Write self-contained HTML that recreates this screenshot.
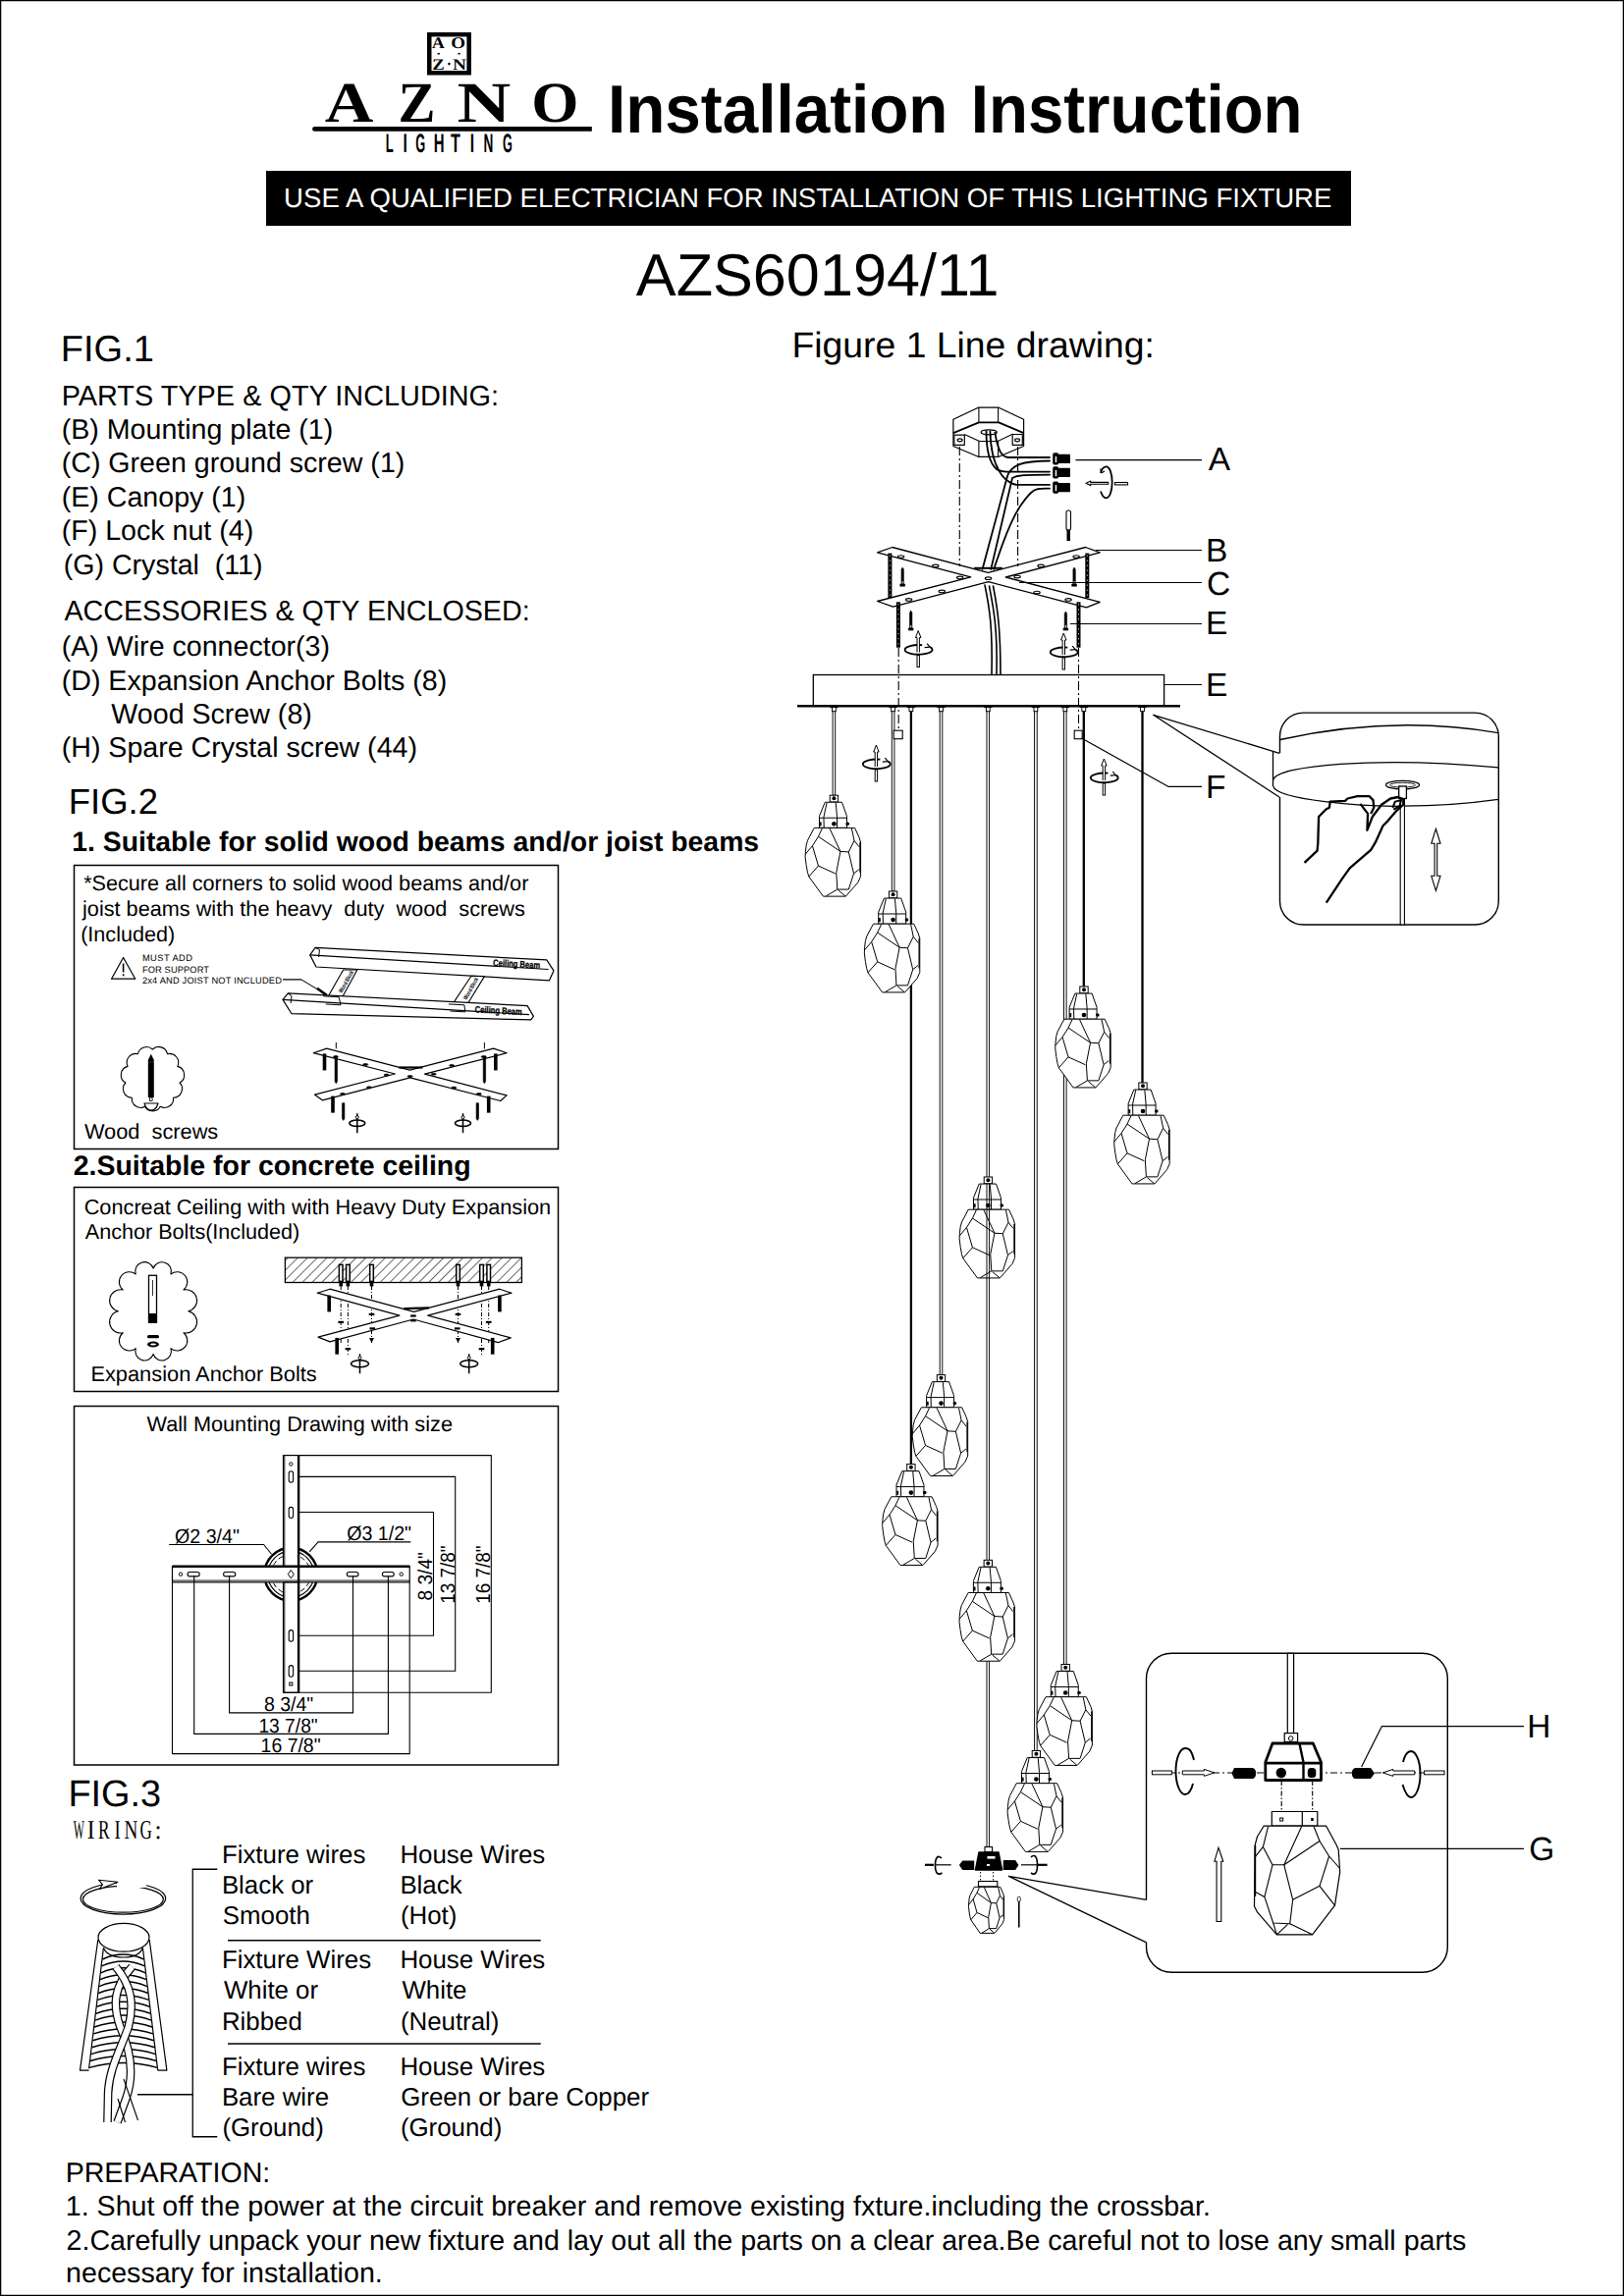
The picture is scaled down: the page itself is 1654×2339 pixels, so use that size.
<!DOCTYPE html>
<html><head><meta charset="utf-8"><style>
html,body{margin:0;padding:0;background:#fff;}
body{width:1654px;height:2339px;overflow:hidden;position:relative;font-family:"Liberation Sans",sans-serif;}
svg{position:absolute;left:0;top:0;display:block;}
</style></head><body>
<svg width="1654" height="2339" viewBox="0 0 1654 2339" text-rendering="geometricPrecision">
<rect x="0.5" y="0.5" width="1653" height="2338" fill="none" stroke="#000" stroke-width="1.5"/>

<text x="439.82" y="48.90" font-size="16.2" font-family="Liberation Serif" font-weight="bold" fill="#000" textLength="13.11" lengthAdjust="spacingAndGlyphs"  xml:space="preserve">A</text>
<text x="459.17" y="48.90" font-size="16.2" font-family="Liberation Serif" font-weight="bold" fill="#000" textLength="14.75" lengthAdjust="spacingAndGlyphs"  xml:space="preserve">O</text>
<text x="440.31" y="70.60" font-size="16.2" font-family="Liberation Serif" font-weight="bold" fill="#000" textLength="12.44" lengthAdjust="spacingAndGlyphs"  xml:space="preserve">Z</text>
<text x="461.03" y="70.60" font-size="16.2" font-family="Liberation Serif" font-weight="bold" fill="#000" textLength="13.92" lengthAdjust="spacingAndGlyphs"  xml:space="preserve">N</text>
<text x="618.91" y="135.00" font-size="69.3" font-family="Liberation Sans" font-weight="bold" fill="#000" textLength="346.56" lengthAdjust="spacingAndGlyphs"  xml:space="preserve">Installation</text>
<text x="988.83" y="135.00" font-size="69.3" font-family="Liberation Sans" font-weight="bold" fill="#000" textLength="337.73" lengthAdjust="spacingAndGlyphs"  xml:space="preserve">Instruction</text>
<rect x="271" y="174" width="1105" height="56" fill="#000"/>
<text x="289.14" y="210.75" font-size="27.5" font-family="Liberation Sans" font-weight="normal" fill="#fff" textLength="1067.29" lengthAdjust="spacingAndGlyphs"  xml:space="preserve">USE A QUALIFIED ELECTRICIAN FOR INSTALLATION OF THIS LIGHTING FIXTURE</text>
<text x="647.88" y="301.00" font-size="60.7" font-family="Liberation Sans" font-weight="normal" fill="#000" textLength="369.57" lengthAdjust="spacingAndGlyphs"  xml:space="preserve">AZS60194/11</text>
<text x="61.88" y="367.50" font-size="37.5" font-family="Liberation Sans" font-weight="normal" fill="#000" textLength="94.97" lengthAdjust="spacingAndGlyphs"  xml:space="preserve">FIG.1</text>
<text x="62.65" y="412.80" font-size="29" font-family="Liberation Sans" font-weight="normal" fill="#000" textLength="445.46" lengthAdjust="spacingAndGlyphs"  xml:space="preserve">PARTS TYPE &amp; QTY INCLUDING:</text>
<text x="62.73" y="446.80" font-size="28.6" font-family="Liberation Sans" font-weight="normal" fill="#000"  xml:space="preserve">(B) Mounting plate (1)</text>
<text x="62.73" y="481.00" font-size="28.6" font-family="Liberation Sans" font-weight="normal" fill="#000"  xml:space="preserve">(C) Green ground screw (1)</text>
<text x="62.73" y="516.00" font-size="28.6" font-family="Liberation Sans" font-weight="normal" fill="#000"  xml:space="preserve">(E) Canopy (1)</text>
<text x="62.73" y="550.20" font-size="28.6" font-family="Liberation Sans" font-weight="normal" fill="#000"  xml:space="preserve">(F) Lock nut (4)</text>
<text x="64.73" y="584.50" font-size="28.6" font-family="Liberation Sans" font-weight="normal" fill="#000"  xml:space="preserve">(G) Crystal  (11)</text>
<text x="65.44" y="631.50" font-size="29" font-family="Liberation Sans" font-weight="normal" fill="#000" textLength="474.17" lengthAdjust="spacingAndGlyphs"  xml:space="preserve">ACCESSORIES &amp; QTY ENCLOSED:</text>
<text x="62.73" y="668.00" font-size="28.6" font-family="Liberation Sans" font-weight="normal" fill="#000"  xml:space="preserve">(A) Wire connector(3)</text>
<text x="62.73" y="702.50" font-size="28.6" font-family="Liberation Sans" font-weight="normal" fill="#000"  xml:space="preserve">(D) Expansion Anchor Bolts (8)</text>
<text x="113.37" y="737.00" font-size="28.6" font-family="Liberation Sans" font-weight="normal" fill="#000"  xml:space="preserve">Wood Screw (8)</text>
<text x="62.73" y="771.00" font-size="28.6" font-family="Liberation Sans" font-weight="normal" fill="#000"  xml:space="preserve">(H) Spare Crystal screw (44)</text>
<text x="69.81" y="828.80" font-size="36.5" font-family="Liberation Sans" font-weight="normal" fill="#000"  xml:space="preserve">FIG.2</text>
<text x="73.21" y="867.00" font-size="28.25" font-family="Liberation Sans" font-weight="bold" fill="#000" textLength="699.95" lengthAdjust="spacingAndGlyphs"  xml:space="preserve">1. Suitable for solid wood beams and/or joist beams</text>
<rect x="75.5" y="881.5" width="493" height="289" fill="none" stroke="#000" stroke-width="1.5"/>
<text x="85.15" y="907.30" font-size="21.6" font-family="Liberation Sans" font-weight="normal" fill="#000" textLength="453.21" lengthAdjust="spacingAndGlyphs"  xml:space="preserve">*Secure all corners to solid wood beams and/or</text>
<text x="84.03" y="933.40" font-size="21.6" font-family="Liberation Sans" font-weight="normal" fill="#000" textLength="450.75" lengthAdjust="spacingAndGlyphs"  xml:space="preserve">joist beams with the heavy  duty  wood  screws</text>
<text x="82.16" y="959.00" font-size="21.6" font-family="Liberation Sans" font-weight="normal" fill="#000"  xml:space="preserve">(Included)</text>
<text x="85.90" y="1160.00" font-size="21.6" font-family="Liberation Sans" font-weight="normal" fill="#000" textLength="136.38" lengthAdjust="spacingAndGlyphs"  xml:space="preserve">Wood  screws</text>
<text x="74.71" y="1196.50" font-size="28.25" font-family="Liberation Sans" font-weight="bold" fill="#000" textLength="404.89" lengthAdjust="spacingAndGlyphs"  xml:space="preserve">2.Suitable for concrete ceiling</text>
<rect x="75.5" y="1209.5" width="493" height="208" fill="none" stroke="#000" stroke-width="1.5"/>
<text x="85.70" y="1236.50" font-size="21.6" font-family="Liberation Sans" font-weight="normal" fill="#000" textLength="475.51" lengthAdjust="spacingAndGlyphs"  xml:space="preserve">Concreat Ceiling with with Heavy Duty Expansion</text>
<text x="86.76" y="1261.60" font-size="21.6" font-family="Liberation Sans" font-weight="normal" fill="#000"  xml:space="preserve">Anchor Bolts(Included)</text>
<text x="92.42" y="1406.50" font-size="21.6" font-family="Liberation Sans" font-weight="normal" fill="#000" textLength="230.36" lengthAdjust="spacingAndGlyphs"  xml:space="preserve">Expansion Anchor Bolts</text>
<rect x="75.5" y="1432.5" width="493" height="365.5" fill="none" stroke="#000" stroke-width="1.5"/>
<text x="149.50" y="1457.70" font-size="21.6" font-family="Liberation Sans" font-weight="normal" fill="#000" textLength="311.46" lengthAdjust="spacingAndGlyphs"  xml:space="preserve">Wall Mounting Drawing with size</text>
<text x="69.39" y="1840.30" font-size="38" font-family="Liberation Sans" font-weight="normal" fill="#000" textLength="94.77" lengthAdjust="spacingAndGlyphs"  xml:space="preserve">FIG.3</text>
<text x="74.79" y="1872.70" font-size="27.3" font-family="Liberation Serif" font-weight="normal" fill="#000" textLength="11.13" lengthAdjust="spacingAndGlyphs"  xml:space="preserve">W</text>
<text x="88.76" y="1872.70" font-size="27.3" font-family="Liberation Serif" font-weight="normal" fill="#000" textLength="7.76" lengthAdjust="spacingAndGlyphs"  xml:space="preserve">I</text>
<text x="100.10" y="1872.70" font-size="27.3" font-family="Liberation Serif" font-weight="normal" fill="#000" textLength="11.63" lengthAdjust="spacingAndGlyphs"  xml:space="preserve">R</text>
<text x="116.62" y="1872.70" font-size="27.3" font-family="Liberation Serif" font-weight="normal" fill="#000" textLength="6.23" lengthAdjust="spacingAndGlyphs"  xml:space="preserve">I</text>
<text x="126.55" y="1872.70" font-size="27.3" font-family="Liberation Serif" font-weight="normal" fill="#000" textLength="13.90" lengthAdjust="spacingAndGlyphs"  xml:space="preserve">N</text>
<text x="142.40" y="1872.70" font-size="27.3" font-family="Liberation Serif" font-weight="normal" fill="#000" textLength="12.33" lengthAdjust="spacingAndGlyphs"  xml:space="preserve">G</text>
<text x="157.58" y="1872.70" font-size="27.3" font-family="Liberation Serif" font-weight="normal" fill="#000" textLength="7.08" lengthAdjust="spacingAndGlyphs"  xml:space="preserve">:</text>
<text x="225.88" y="1897.50" font-size="25.85" font-family="Liberation Sans" font-weight="normal" fill="#000"  xml:space="preserve">Fixture wires</text>
<text x="407.38" y="1897.50" font-size="25.85" font-family="Liberation Sans" font-weight="normal" fill="#000"  xml:space="preserve">House Wires</text>
<text x="225.88" y="1928.75" font-size="25.85" font-family="Liberation Sans" font-weight="normal" fill="#000"  xml:space="preserve">Black or</text>
<text x="407.38" y="1928.75" font-size="25.85" font-family="Liberation Sans" font-weight="normal" fill="#000"  xml:space="preserve">Black</text>
<text x="226.83" y="1959.50" font-size="25.85" font-family="Liberation Sans" font-weight="normal" fill="#000"  xml:space="preserve">Smooth</text>
<text x="407.90" y="1959.50" font-size="25.85" font-family="Liberation Sans" font-weight="normal" fill="#000"  xml:space="preserve">(Hot)</text>
<text x="225.88" y="2005.00" font-size="25.85" font-family="Liberation Sans" font-weight="normal" fill="#000"  xml:space="preserve">Fixture Wires</text>
<text x="407.38" y="2005.00" font-size="25.85" font-family="Liberation Sans" font-weight="normal" fill="#000"  xml:space="preserve">House Wires</text>
<text x="227.89" y="2036.25" font-size="25.85" font-family="Liberation Sans" font-weight="normal" fill="#000"  xml:space="preserve">White or</text>
<text x="409.39" y="2036.25" font-size="25.85" font-family="Liberation Sans" font-weight="normal" fill="#000"  xml:space="preserve">White</text>
<text x="225.88" y="2067.50" font-size="25.85" font-family="Liberation Sans" font-weight="normal" fill="#000"  xml:space="preserve">Ribbed</text>
<text x="407.90" y="2067.50" font-size="25.85" font-family="Liberation Sans" font-weight="normal" fill="#000"  xml:space="preserve">(Neutral)</text>
<text x="225.88" y="2113.75" font-size="25.85" font-family="Liberation Sans" font-weight="normal" fill="#000"  xml:space="preserve">Fixture wires</text>
<text x="407.38" y="2113.75" font-size="25.85" font-family="Liberation Sans" font-weight="normal" fill="#000"  xml:space="preserve">House Wires</text>
<text x="225.88" y="2145.00" font-size="25.85" font-family="Liberation Sans" font-weight="normal" fill="#000"  xml:space="preserve">Bare wire</text>
<text x="408.20" y="2145.00" font-size="25.85" font-family="Liberation Sans" font-weight="normal" fill="#000"  xml:space="preserve">Green or bare Copper</text>
<text x="226.40" y="2175.50" font-size="25.85" font-family="Liberation Sans" font-weight="normal" fill="#000"  xml:space="preserve">(Ground)</text>
<text x="407.90" y="2175.50" font-size="25.85" font-family="Liberation Sans" font-weight="normal" fill="#000"  xml:space="preserve">(Ground)</text>
<line x1="232" y1="1976.75" x2="550.75" y2="1976.75" stroke="#000" stroke-width="1.3"/>
<line x1="232" y1="2082" x2="550.75" y2="2082" stroke="#000" stroke-width="1.3"/>
<polyline points="221.25,1904.25 196.25,1904.25 196.25,2176.75 221.25,2176.75" fill="none" stroke="#000" stroke-width="1.3"/>
<line x1="140" y1="2133.75" x2="196.25" y2="2133.75" stroke="#000" stroke-width="1.3"/>
<text x="66.65" y="2222.50" font-size="28.6" font-family="Liberation Sans" font-weight="normal" fill="#000"  xml:space="preserve">PREPARATION:</text>
<text x="66.82" y="2256.50" font-size="28.6" font-family="Liberation Sans" font-weight="normal" fill="#000"  xml:space="preserve">1. Shut off the power at the circuit breaker and remove existing fxture.including the crossbar.</text>
<text x="67.56" y="2291.50" font-size="28.6" font-family="Liberation Sans" font-weight="normal" fill="#000"  xml:space="preserve">2.Carefully unpack your new fixture and lay out all the parts on a clear area.Be careful not to lose any small parts</text>
<text x="67.10" y="2325.00" font-size="28.6" font-family="Liberation Sans" font-weight="normal" fill="#000"  xml:space="preserve">necessary for installation.</text>
<text x="806.44" y="363.75" font-size="36.7" font-family="Liberation Sans" font-weight="normal" fill="#000" textLength="369.47" lengthAdjust="spacingAndGlyphs"  xml:space="preserve">Figure 1 Line drawing:</text>
<text x="1230.73" y="478.90" font-size="33.5" font-family="Liberation Sans" font-weight="normal" fill="#000"  xml:space="preserve">A</text>
<text x="1228.05" y="572.00" font-size="33.5" font-family="Liberation Sans" font-weight="normal" fill="#000"  xml:space="preserve">B</text>
<text x="1229.10" y="605.60" font-size="33.5" font-family="Liberation Sans" font-weight="normal" fill="#000"  xml:space="preserve">C</text>
<text x="1228.05" y="645.80" font-size="33.5" font-family="Liberation Sans" font-weight="normal" fill="#000"  xml:space="preserve">E</text>
<text x="1228.05" y="709.00" font-size="33.5" font-family="Liberation Sans" font-weight="normal" fill="#000"  xml:space="preserve">E</text>
<text x="1228.05" y="812.50" font-size="33.5" font-family="Liberation Sans" font-weight="normal" fill="#000"  xml:space="preserve">F</text>
<text x="1555.25" y="1770.00" font-size="33.5" font-family="Liberation Sans" font-weight="normal" fill="#000"  xml:space="preserve">H</text>
<text x="1557.32" y="1895.00" font-size="33.5" font-family="Liberation Sans" font-weight="normal" fill="#000"  xml:space="preserve">G</text>
<defs><g id="crysbody"><polygon points="-20.11,33.18 -26.91,45.98 -28.21,50.68 -29.00,57.21 -29.26,62.96 -28.21,71.32 -26.91,78.63 -25.60,82.81 -10.97,102.93 12.02,102.93 24.56,88.56 27.17,82.55 27.17,47.81 25.60,42.84 21.16,33.18" fill="#fff" stroke="#000" vector-effect="non-scaling-stroke" stroke-width="1.0" stroke-linejoin="round" /><polyline points="-12.02,33.70 -15.94,42.06 -21.94,51.46 -29.00,59.82" fill="none" stroke="#000" vector-effect="non-scaling-stroke" stroke-width="1.0" stroke-linejoin="round" /><polyline points="-21.94,51.46 -15.94,71.84 1.31,79.68" fill="none" stroke="#000" vector-effect="non-scaling-stroke" stroke-width="1.0" stroke-linejoin="round" /><polyline points="-15.94,71.84 -25.60,82.81" fill="none" stroke="#000" vector-effect="non-scaling-stroke" stroke-width="1.0" stroke-linejoin="round" /><polyline points="-15.94,42.06 6.53,57.21" fill="none" stroke="#000" vector-effect="non-scaling-stroke" stroke-width="1.0" stroke-linejoin="round" /><polyline points="-4.44,33.70 6.53,57.21 14.89,57.73" fill="none" stroke="#000" vector-effect="non-scaling-stroke" stroke-width="1.0" stroke-linejoin="round" /><polyline points="6.53,57.21 2.35,78.63 3.40,95.87 -8.10,102.66" fill="none" stroke="#000" vector-effect="non-scaling-stroke" stroke-width="1.0" stroke-linejoin="round" /><polyline points="3.40,95.87 14.89,95.87 20.11,79.68 14.89,57.73 20.64,46.24 18.03,33.70" fill="none" stroke="#000" vector-effect="non-scaling-stroke" stroke-width="1.0" stroke-linejoin="round" /><polyline points="4.44,96.66 11.49,102.66" fill="none" stroke="#000" vector-effect="non-scaling-stroke" stroke-width="1.0" stroke-linejoin="round" /><polyline points="20.11,79.68 25.34,75.50" fill="none" stroke="#000" vector-effect="non-scaling-stroke" stroke-width="1.0" stroke-linejoin="round" /><polyline points="20.64,46.24 25.60,52.51" fill="none" stroke="#000" vector-effect="non-scaling-stroke" stroke-width="1.0" stroke-linejoin="round" /><line x1="26.5" y1="47.8" x2="26.5" y2="78.6" stroke="#000" vector-effect="non-scaling-stroke" stroke-width="1.2" /></g><g id="crys"><rect x="-4.18" y="0" width="8.36" height="6.79" fill="#fff" stroke="#000" stroke-width="1.0"/><circle cx="0" cy="3.13" r="2" fill="#000"/><polygon points="-9.14,7.05 -14.89,21.16 -14.89,33.18 13.06,33.18 13.06,21.16 8.10,7.05" fill="#fff" stroke="#000" stroke-width="1.0" stroke-linejoin="round" /><polyline points="-7.31,7.58 -10.45,22.20 -10.19,33.18" fill="none" stroke="#000" stroke-width="1.0" stroke-linejoin="round" /><polyline points="1.83,7.58 3.13,22.20 3.13,33.18" fill="none" stroke="#000" stroke-width="1.0" stroke-linejoin="round" /><polyline points="-14.89,22.99 13.06,22.99" fill="none" stroke="#000" stroke-width="1.0" stroke-linejoin="round" /><rect x="-14.79" y="27.17" width="2" height="4" fill="#000"/><circle cx="0" cy="29.00" r="2.3" fill="#000"/><circle cx="13.85" cy="29.00" r="1.8" fill="#000"/><use href="#crysbody"/></g></defs>
<rect x="828.3" y="687.5" width="357.3" height="31.3" fill="#fff" stroke="#000" stroke-width="1.3"/>
<line x1="812.0" y1="719.2" x2="1202.0" y2="719.2" stroke="#000" stroke-width="2.6" />
<rect x="848.1" y="721" width="2.6" height="89.2" fill="#fff" stroke="#000" stroke-width="0.95"/>
<rect x="845.2" y="719.5" width="8.4" height="1.6" fill="#000"/>
<rect x="847.5" y="720.5" width="3.8" height="4.2" fill="#fff" stroke="#000" stroke-width="0.95"/>
<rect x="908.3" y="721" width="2.6" height="187.0" fill="#fff" stroke="#000" stroke-width="0.95"/>
<rect x="905.4" y="719.5" width="8.4" height="1.6" fill="#000"/>
<rect x="907.7" y="720.5" width="3.8" height="4.2" fill="#fff" stroke="#000" stroke-width="0.95"/>
<line x1="927.9" y1="721.0" x2="927.9" y2="1491.6" stroke="#000" stroke-width="2.3" />
<rect x="923.7" y="719.5" width="8.4" height="1.6" fill="#000"/>
<rect x="926.0" y="720.5" width="3.8" height="4.2" fill="#fff" stroke="#000" stroke-width="0.95"/>
<rect x="957.2" y="721" width="2.6" height="679.6" fill="#fff" stroke="#000" stroke-width="0.95"/>
<rect x="954.3" y="719.5" width="8.4" height="1.6" fill="#000"/>
<rect x="956.6" y="720.5" width="3.8" height="4.2" fill="#fff" stroke="#000" stroke-width="0.95"/>
<rect x="1005.0" y="721" width="2.6" height="1168.0" fill="#fff" stroke="#000" stroke-width="0.95"/>
<rect x="1002.1" y="719.5" width="8.4" height="1.6" fill="#000"/>
<rect x="1004.4" y="720.5" width="3.8" height="4.2" fill="#fff" stroke="#000" stroke-width="0.95"/>
<rect x="1053.6" y="721" width="2.6" height="1062.5" fill="#fff" stroke="#000" stroke-width="0.95"/>
<rect x="1050.7" y="719.5" width="8.4" height="1.6" fill="#000"/>
<rect x="1053.0" y="720.5" width="3.8" height="4.2" fill="#fff" stroke="#000" stroke-width="0.95"/>
<rect x="1083.5" y="721" width="2.6" height="974.5" fill="#fff" stroke="#000" stroke-width="0.95"/>
<rect x="1080.6" y="719.5" width="8.4" height="1.6" fill="#000"/>
<rect x="1082.9" y="720.5" width="3.8" height="4.2" fill="#fff" stroke="#000" stroke-width="0.95"/>
<line x1="1103.8" y1="721.0" x2="1103.8" y2="1005.0" stroke="#000" stroke-width="2.3" />
<rect x="1099.6" y="719.5" width="8.4" height="1.6" fill="#000"/>
<rect x="1101.9" y="720.5" width="3.8" height="4.2" fill="#fff" stroke="#000" stroke-width="0.95"/>
<line x1="1163.5" y1="721.0" x2="1163.5" y2="1103.0" stroke="#000" stroke-width="2.3" />
<rect x="1159.3" y="719.5" width="8.4" height="1.6" fill="#000"/>
<rect x="1161.6" y="720.5" width="3.8" height="4.2" fill="#fff" stroke="#000" stroke-width="0.95"/>
<use href="#crys" x="849.4" y="810.2"/>
<use href="#crys" x="909.6" y="908.0"/>
<use href="#crys" x="1104.0" y="1005.0"/>
<use href="#crys" x="1164.0" y="1103.0"/>
<use href="#crys" x="1006.4" y="1199.0"/>
<use href="#crys" x="958.5" y="1400.6"/>
<use href="#crys" x="927.9" y="1491.6"/>
<use href="#crys" x="1006.3" y="1589.3"/>
<use href="#crys" x="1085.2" y="1695.5"/>
<use href="#crys" x="1055.4" y="1783.5"/>
<line x1="1005" y1="1205" x2="1005" y2="1302" stroke="#000" stroke-width="0.95"/><line x1="1007.6" y1="1205" x2="1007.6" y2="1302" stroke="#000" stroke-width="0.95"/>
<polygon points="970.9,427.3 996.3,415.2 1017.2,415.2 1042.6,427.3 1042.6,454.5 1017.2,465.3 996.3,465.3 970.9,454.5" fill="#fff" stroke="#000" stroke-width="1.2" stroke-linejoin="round" />
<polyline points="996.9,415.2 996.9,430.4" fill="none" stroke="#000" stroke-width="1.1" stroke-linejoin="round" />
<polyline points="1016.6,415.2 1016.6,430.4" fill="none" stroke="#000" stroke-width="1.1" stroke-linejoin="round" />
<polyline points="970.9,441.2 996.9,430.4 1017.2,430.4 1042.6,441.2" fill="none" stroke="#000" stroke-width="1.8" stroke-linejoin="round" />
<polyline points="982.3,442.5 997.6,449.5 1016.0,449.5 1031.8,441.9" fill="none" stroke="#000" stroke-width="1.1" stroke-linejoin="round" />
<polyline points="996.9,449.5 996.9,465.3" fill="none" stroke="#000" stroke-width="1.1" stroke-linejoin="round" />
<polyline points="1016.6,449.5 1016.6,465.3" fill="none" stroke="#000" stroke-width="1.1" stroke-linejoin="round" />
<polygon points="971.8,443.1 982.3,443.1 982.3,453.3 971.8,453.3" fill="#fff" stroke="#000" stroke-width="1.2" stroke-linejoin="round" />
<polygon points="1031.2,442.5 1041.3,442.5 1041.3,453.3 1031.2,453.3" fill="#fff" stroke="#000" stroke-width="1.2" stroke-linejoin="round" />
<ellipse cx="977.6" cy="448.3" rx="2.5" ry="1.5" fill="none" stroke="#000" stroke-width="1.2"/>
<ellipse cx="1036.1" cy="448.3" rx="2.5" ry="1.5" fill="none" stroke="#000" stroke-width="1.2"/>
<ellipse cx="1007.2" cy="440.3" rx="8" ry="2.5" fill="#fff" stroke="#000" stroke-width="1.3"/>
<path d="M 1013.4,440.6 C 1016,458 1020,466 1027.5,466 H 1069" fill="none" stroke="#000" stroke-width="1.8" stroke-linecap="round"/>
<path d="M 1004.5,439.3 C 1004.5,460 1008,472 1015,478 C 1018,480 1020,480.6 1025,480.6 H 1069" fill="none" stroke="#000" stroke-width="1.8" stroke-linecap="round"/>
<path d="M 1008.4,439.3 C 1009,465 1015,480 1024.8,488.8 C 1029,492 1032,493.9 1036,493.9 H 1069" fill="none" stroke="#000" stroke-width="1.8" stroke-linecap="round"/>
<path d="M 1069,469.5 C 1040,469.5 1030,474 1026,485 L 1000.6,579.8" fill="none" stroke="#000" stroke-width="1.8" stroke-linecap="round"/>
<path d="M 1069,483.7 C 1045,483.7 1036,484 1031,487 L 1009.3,579.8" fill="none" stroke="#000" stroke-width="1.8" stroke-linecap="round"/>
<path d="M 1069,497.7 C 1060,497.7 1055,497 1050,502 C 1040,512 1030,525 1012.3,579.8" fill="none" stroke="#000" stroke-width="1.8" stroke-linecap="round"/>
<rect x="1072.2" y="461.2" width="6" height="12.3" rx="1.8" fill="#000"/>
<rect x="1076" y="462.7" width="14" height="9.3" rx="0.8" fill="#000"/>
<rect x="1074.7" y="464.9" width="1.5" height="6.1" fill="#fff"/>
<rect x="1072.2" y="475.3" width="6" height="12.3" rx="1.8" fill="#000"/>
<rect x="1076" y="476.8" width="14" height="9.3" rx="0.8" fill="#000"/>
<rect x="1074.7" y="479.0" width="1.5" height="6.1" fill="#fff"/>
<rect x="1072.2" y="490.4" width="6" height="12.3" rx="1.8" fill="#000"/>
<rect x="1076" y="491.9" width="14" height="9.3" rx="0.8" fill="#000"/>
<rect x="1074.7" y="494.1" width="1.5" height="6.1" fill="#fff"/>
<line x1="1095.5" y1="468.6" x2="1224.0" y2="468.6" stroke="#000" stroke-width="1.2" />
<path d="M 1121.2,482 C 1121.5,479 1123.5,475.3 1126.5,475.3 C 1130,475.3 1132.7,482 1132.7,491.3 C 1132.7,500.5 1130,507.3 1126.5,507.3 C 1124,507.3 1122.3,504.5 1121,500.5" fill="none" stroke="#000" stroke-width="1.8"/>
<path d="M 1121.5,482 l -0.8,-4.5 M 1121.5,482 l 3.5,-2" stroke="#000" stroke-width="1.1" fill="none"/>
<path d="M 1106.2,492.3 l 4.5,-2.2 v 1.3 h 18 v 1.8 h -18 v 1.3 z" fill="#fff" stroke="#000" stroke-width="1.1"/>
<rect x="1135.5" y="491.5" width="13" height="2.4" fill="#fff" stroke="#000" stroke-width="1.1"/>
<rect x="1086" y="520" width="4.5" height="20" rx="2" fill="#fff" stroke="#000" stroke-width="1.1"/>
<rect x="1086.5" y="540" width="3.5" height="11" fill="#000"/>
<polygon points="893.6,562.8 908.8,557.5 1006.4,583.3 1105.7,557.5 1120.2,562.8 1024.3,588.0 1120.2,613.3 1106.5,618.9 1006.7,592.6 909.6,618.1 893.6,612.5 988.7,587.8" fill="#fff" stroke="#000" stroke-width="1.3" stroke-linejoin="round" />
<polyline points="992.1,578.8 1020.9,578.8" fill="none" stroke="#000" stroke-width="2" stroke-linejoin="round" />
<ellipse cx="917.6" cy="567.1" rx="3.2" ry="1.3" fill="none" stroke="#000" stroke-width="1.1"/>
<ellipse cx="952.8" cy="576.4" rx="3.2" ry="1.3" fill="none" stroke="#000" stroke-width="1.1"/>
<ellipse cx="959.3" cy="602.4" rx="3.2" ry="1.3" fill="none" stroke="#000" stroke-width="1.1"/>
<ellipse cx="925.6" cy="610.9" rx="3.2" ry="1.3" fill="none" stroke="#000" stroke-width="1.1"/>
<ellipse cx="1060.1" cy="576.4" rx="3.2" ry="1.3" fill="none" stroke="#000" stroke-width="1.1"/>
<ellipse cx="1096.1" cy="567.1" rx="3.2" ry="1.3" fill="none" stroke="#000" stroke-width="1.1"/>
<ellipse cx="1056.1" cy="603.6" rx="3.2" ry="1.3" fill="none" stroke="#000" stroke-width="1.1"/>
<ellipse cx="1088.1" cy="610.9" rx="3.2" ry="1.3" fill="none" stroke="#000" stroke-width="1.1"/>
<ellipse cx="977.7" cy="588.4" rx="3.2" ry="1.3" fill="none" stroke="#000" stroke-width="1.1"/>
<ellipse cx="1036.1" cy="587.6" rx="3.2" ry="1.3" fill="none" stroke="#000" stroke-width="1.1"/>
<ellipse cx="1006.5" cy="589.2" rx="3.2" ry="1.3" fill="none" stroke="#000" stroke-width="1.1"/>
<rect x="904.4" y="563.6" width="4" height="45.6" fill="#000"/>
<line x1="906.4" y1="565.6" x2="906.4" y2="607.3" stroke="#fff" stroke-width="1" stroke-dasharray="1 4"/>
<rect x="1105.3" y="563.6" width="4" height="45.6" fill="#000"/>
<line x1="1107.3" y1="565.6" x2="1107.3" y2="607.3" stroke="#fff" stroke-width="1" stroke-dasharray="1 4"/>
<rect x="912.9" y="613.3" width="4" height="46.4" fill="#000"/>
<line x1="914.9" y1="615.3" x2="914.9" y2="657.7" stroke="#fff" stroke-width="1" stroke-dasharray="1 4"/>
<rect x="1096.5" y="613.3" width="4" height="46.4" fill="#000"/>
<line x1="1098.5" y1="615.3" x2="1098.5" y2="657.7" stroke="#fff" stroke-width="1" stroke-dasharray="1 4"/>
<path d="M 919.2,578.0 L 920.4,580.0 V 595.0 h 1.2 v 2.2 h -4.8 v -2.2 h 1.2 V 580.0 Z" fill="#000" stroke="#000" stroke-width="0.6"/>
<rect x="918.7" y="592.2" width="1" height="2.2" fill="#fff"/>
<path d="M 1094.1,578.0 L 1095.3,580.0 V 595.0 h 1.2 v 2.2 h -4.8 v -2.2 h 1.2 V 580.0 Z" fill="#000" stroke="#000" stroke-width="0.6"/>
<rect x="1093.6" y="592.2" width="1" height="2.2" fill="#fff"/>
<path d="M 927.7,622.1 L 928.9,624.1 V 639.9 h 1.2 v 2.2 h -4.8 v -2.2 h 1.2 V 624.1 Z" fill="#000" stroke="#000" stroke-width="0.6"/>
<rect x="927.2" y="637.1" width="1" height="2.2" fill="#fff"/>
<path d="M 1085.4,622.9 L 1086.6,624.9 V 639.9 h 1.2 v 2.2 h -4.8 v -2.2 h 1.2 V 624.9 Z" fill="#000" stroke="#000" stroke-width="0.6"/>
<rect x="1084.9" y="637.1" width="1" height="2.2" fill="#fff"/>
<line x1="977.3" y1="455.0" x2="977.3" y2="577.0" stroke="#000" stroke-width="1.1" stroke-dasharray="9 3 2 3"/>
<line x1="1036.6" y1="455.0" x2="1036.6" y2="577.0" stroke="#000" stroke-width="1.1" stroke-dasharray="9 3 2 3"/>
<line x1="915.2" y1="660.0" x2="915.2" y2="745.0" stroke="#000" stroke-width="1.1" stroke-dasharray="9 3 2 3"/>
<line x1="1098.5" y1="660.0" x2="1098.5" y2="745.0" stroke="#000" stroke-width="1.1" stroke-dasharray="9 3 2 3"/>
<path d="M 939.2,657.2 A 14 4.8 0 1 0 947.1,659.1" fill="none" stroke="#000" stroke-width="1.8"/><path d="M 947.1,659.1 l -3,-3.5 M 947.1,659.1 l -5.5,0.5" stroke="#000" stroke-width="1.2" fill="none"/><path d="M 934.0,664.5 V 649.5 h -1.5 l 2.7,-7 l 2.7,7 h -1.5 V 664.5" fill="#fff" stroke="#000" stroke-width="1"/><rect x="934.0" y="667.5" width="2.4" height="12" fill="#fff" stroke="#000" stroke-width="1"/>
<path d="M 1087.3,659.7 A 14 4.8 0 1 0 1095.2,661.6" fill="none" stroke="#000" stroke-width="1.8"/><path d="M 1095.2,661.6 l -3,-3.5 M 1095.2,661.6 l -5.5,0.5" stroke="#000" stroke-width="1.2" fill="none"/><path d="M 1082.1,667.0 V 652.0 h -1.5 l 2.7,-7 l 2.7,7 h -1.5 V 667.0" fill="#fff" stroke="#000" stroke-width="1"/><rect x="1082.1" y="670.0" width="2.4" height="12" fill="#fff" stroke="#000" stroke-width="1"/>
<path d="M 896.4,773.7 A 14 4.8 0 1 0 904.3,775.6" fill="none" stroke="#000" stroke-width="1.8"/><path d="M 904.3,775.6 l -3,-3.5 M 904.3,775.6 l -5.5,0.5" stroke="#000" stroke-width="1.2" fill="none"/><path d="M 891.2,781.0 V 766.0 h -1.5 l 2.7,-7 l 2.7,7 h -1.5 V 781.0" fill="#fff" stroke="#000" stroke-width="1"/><rect x="891.2" y="784.0" width="2.4" height="12" fill="#fff" stroke="#000" stroke-width="1"/>
<path d="M 1128.4,787.7 A 14 4.8 0 1 0 1136.3,789.6" fill="none" stroke="#000" stroke-width="1.8"/><path d="M 1136.3,789.6 l -3,-3.5 M 1136.3,789.6 l -5.5,0.5" stroke="#000" stroke-width="1.2" fill="none"/><path d="M 1123.2,795.0 V 780.0 h -1.5 l 2.7,-7 l 2.7,7 h -1.5 V 795.0" fill="#fff" stroke="#000" stroke-width="1"/><rect x="1123.2" y="798.0" width="2.4" height="12" fill="#fff" stroke="#000" stroke-width="1"/>
<path d="M 1003,596 C 1008,620 1011,640 1010,687" fill="none" stroke="#000" stroke-width="1.6" stroke-linecap="round"/>
<path d="M 1007.5,597 C 1012,620 1016,640 1015,687" fill="none" stroke="#000" stroke-width="1.6" stroke-linecap="round"/>
<path d="M 1011.5,597 C 1016,620 1019,640 1019,687" fill="none" stroke="#000" stroke-width="1.6" stroke-linecap="round"/>
<rect x="910.2" y="744.2" width="9" height="8.5" fill="#fff" stroke="#000" stroke-width="1.1"/>
<rect x="1094.2" y="744.2" width="8" height="8.5" fill="#fff" stroke="#000" stroke-width="1.1"/>
<line x1="1038.0" y1="593.5" x2="1224.0" y2="593.5" stroke="#000" stroke-width="1.2" />
<line x1="1116.0" y1="560.5" x2="1224.0" y2="560.5" stroke="#000" stroke-width="1.2" />
<line x1="1090.0" y1="635.5" x2="1224.0" y2="635.5" stroke="#000" stroke-width="1.2" />
<line x1="1185.8" y1="697.5" x2="1224.0" y2="697.5" stroke="#000" stroke-width="1.2" />
<polyline points="1101.5,752 1190.2,801.4 1224,801.4" fill="none" stroke="#000" stroke-width="1.2" stroke-linejoin="round" />
<polyline points="1303,767.3 1174.6,728.3 1303,812" fill="none" stroke="#000" stroke-width="1.3" stroke-linejoin="round" />
<path d="M 1303.5,767.3 V 750 A 24 24 0 0 1 1327.5,726.1 H 1502 A 24 24 0 0 1 1526.3,750 V 918 A 24 24 0 0 1 1502,942 H 1327.5 A 24 24 0 0 1 1303.5,918 V 812" fill="none" stroke="#000" stroke-width="1.4"/>
<line x1="1296.5" y1="765.8" x2="1296.5" y2="801.2" stroke="#000" stroke-width="1.3" />
<path d="M 1303.9,753.5 Q 1417.8,728 1526.3,746.6" fill="none" stroke="#000" stroke-width="1.3"/>
<path d="M 1296.9,794.3 C 1300,780 1400,770 1526.3,782" fill="none" stroke="#000" stroke-width="1.3"/>
<path d="M 1296.9,801.2 C 1300,815 1390,822 1428.5,821.2 C 1470,821 1500,818 1526.3,814.3" fill="none" stroke="#000" stroke-width="1.3"/>
<ellipse cx="1428.5" cy="799.7" rx="17" ry="4.3" fill="#fff" stroke="#000" stroke-width="1.3"/>
<ellipse cx="1428.5" cy="799.7" rx="13" ry="2.4" fill="none" stroke="#000" stroke-width="0.9"/>
<rect x="1424.7" y="801" width="7.7" height="12.5" fill="#fff" stroke="#000" stroke-width="1.3"/>
<rect x="1426.2" y="813.5" width="4.2" height="128.5" fill="#fff" stroke="#000" stroke-width="1.1"/>
<path d="M 1462.4,844.3 l -4.6,15 h 3.3 v 33 h -3.3 l 4.6,15 l 4.6,-15 h -3.3 v -33 h 3.3 z" fill="#fff" stroke="#000" stroke-width="1.1"/>
<polyline points="1328.5,878.9 1341.6,866.6 1342.3,858.9 1343.1,832.0 1350.8,824.3 1353.9,822.8 1354.7,816.6 1370.0,815.8 1372.4,813.5 1382.4,811.2 1394.7,811.2 1398.5,815.1 1399.3,822.8 1396.2,828.9" fill="none" stroke="#000" stroke-width="2.3" stroke-linejoin="round" />
<polyline points="1385.4,818.9 1393.1,828.9 1392.4,845.8 1397.8,832.0 1407.0,819.7 1416.2,813.5 1423.9,812.0 1429.3,814.3 1429.3,819.7 1422.4,825.8 1413.2,836.6 1408.5,841.2 1400.8,858.2 1396.2,865.9 1385.4,875.1 1374.7,884.3 1367.0,895.1 1350.8,919.7" fill="none" stroke="#000" stroke-width="2.3" stroke-linejoin="round" />
<polyline points="1418.5,822.8 1420.8,816.6 1427.0,815.1 1425.5,821.2 1419.3,824.6" fill="none" stroke="#000" stroke-width="2" stroke-linejoin="round" />
<path d="M 997,1887 H 1017 L 1020.5,1905 H 993.5 Z" fill="#000" stroke="#000" stroke-width="1.5" stroke-linejoin="round"/>
<rect x="1003" y="1881.5" width="7.6" height="5" fill="#fff" stroke="#000" stroke-width="1.1"/>
<rect x="1005.5" y="1891" width="8" height="2.6" fill="#fff"/>
<rect x="1005" y="1899" width="3" height="2" fill="#fff"/>
<path d="M 977.6,1900 l 3,-4 h 11 v 8.5 h -11 z" fill="#000" stroke="#000" stroke-width="1.2" stroke-linejoin="round"/>
<path d="M 1036.8,1900 l -3,-4.5 h -11.5 v 9 h 11.5 z" fill="#000" stroke="#000" stroke-width="1.2" stroke-linejoin="round"/>
<line x1="942.0" y1="1899.8" x2="951.0" y2="1899.8" stroke="#000" stroke-width="2.2" />
<line x1="1056.7" y1="1899.8" x2="1066.6" y2="1899.8" stroke="#000" stroke-width="2.2" />
<path d="M 959,1893 C 955,1889 952.5,1893 952.5,1900 C 952.5,1908 955,1911 959.5,1908" fill="none" stroke="#000" stroke-width="1.6"/>
<path d="M 1050,1892 C 1054,1888 1056.5,1892 1056.5,1900 C 1056.5,1908 1054,1911 1050,1908" fill="none" stroke="#000" stroke-width="1.6"/>
<line x1="952.0" y1="1899.8" x2="968.7" y2="1899.8" stroke="#000" stroke-width="1.2" />
<line x1="1040.0" y1="1899.8" x2="1056.0" y2="1899.8" stroke="#000" stroke-width="1.2" />
<line x1="998.6" y1="1907.0" x2="998.6" y2="1916.5" stroke="#000" stroke-width="1" stroke-dasharray="1.5 2"/>
<line x1="1011.6" y1="1907.0" x2="1011.6" y2="1916.5" stroke="#000" stroke-width="1" stroke-dasharray="1.5 2"/>
<g transform="translate(1005.2,1899.9) scale(0.64,0.675)"><use href="#crysbody"/></g>
<rect x="996.5" y="1916.5" width="19.3" height="5.3" fill="#fff" stroke="#000" stroke-width="1.1"/>
<line x1="1037.8" y1="1934.0" x2="1037.8" y2="1963.6" stroke="#000" stroke-width="1.6" />
<rect x="1036.3" y="1932.2" width="3" height="5" rx="1.4" fill="#fff" stroke="#000" stroke-width="0.8"/>
<polyline points="1167.5,1935.4 1027.4,1911.3 1167.5,1978.8" fill="none" stroke="#000" stroke-width="1.3" stroke-linejoin="round" />
<path d="M 1167.5,1935.4 V 1710 A 25.6 25.6 0 0 1 1193.1,1684.3 H 1448.7 A 25.6 25.6 0 0 1 1474.3,1710 V 1983.6 A 25.6 25.6 0 0 1 1448.7,2009.2 H 1193.1 A 25.6 25.6 0 0 1 1167.5,1983.6 V 1978.8" fill="none" stroke="#000" stroke-width="1.4"/>
<rect x="1311.3" y="1684.3" width="6.3" height="81.3" fill="#fff" stroke="#000" stroke-width="1.2"/>
<rect x="1308.2" y="1765.6" width="13.4" height="8.9" fill="#fff" stroke="#000" stroke-width="1.2"/>
<circle cx="1314.7" cy="1771" r="2.3" fill="none" stroke="#000" stroke-width="1"/>
<line x1="1190.0" y1="1806.0" x2="1470.0" y2="1806.0" stroke="#000" stroke-width="1.1" stroke-dasharray="7 3 2 3"/>
<path d="M 1296,1776 H 1337.3 L 1345.5,1795.2 V 1813.5 H 1288.8 V 1795.2 Z" fill="#fff" stroke="#000" stroke-width="2.8" stroke-linejoin="round"/>
<line x1="1288.8" y1="1796.2" x2="1345.5" y2="1796.2" stroke="#000" stroke-width="2.8" />
<polyline points="1323.6,1777 1327.5,1795.2 1327.5,1813" fill="none" stroke="#000" stroke-width="2.4" stroke-linejoin="round" />
<circle cx="1304.8" cy="1806" r="5.2" fill="#000"/>
<rect x="1331.8" y="1801" width="8.5" height="10" rx="3.5" fill="#000"/>
<path d="M 1254.5,1806.5 l 2.5,-5.5 h 18.5 a 3,4.5 0 0 1 0,11 h -18.5 z" fill="#000"/>
<path d="M 1400,1806.5 l -4,-5.5 h -15.5 a 3,4.5 0 0 0 0,11 h 15.5 z" fill="#000"/>
<rect x="1173.4" y="1804" width="20" height="3.8" fill="#fff" stroke="#000" stroke-width="1"/>
<path d="M 1204.3,1804 h 22 v -1.6 l 10.5,3.5 l -10.5,3.5 v -1.6 h -22 z" fill="#fff" stroke="#000" stroke-width="1"/>
<path d="M 1216,1793 C 1213,1781 1210,1781 1207,1781 C 1202,1781 1197.5,1791 1197.5,1804 C 1197.5,1818 1202,1828 1207,1828 C 1210,1828 1213,1825 1215,1817" fill="none" stroke="#000" stroke-width="1.9"/>
<rect x="1450.6" y="1804" width="20.4" height="3.8" fill="#fff" stroke="#000" stroke-width="1"/>
<path d="M 1440.8,1804 h -22 v -1.6 l -10.5,3.5 l 10.5,3.5 v -1.6 h 22 z" fill="#fff" stroke="#000" stroke-width="1"/>
<path d="M 1429,1795 C 1431,1787 1434,1784 1437,1784 C 1442,1784 1446.5,1794 1446.5,1807 C 1446.5,1821 1442,1831 1437,1831 C 1434,1831 1431,1826 1428.5,1818" fill="none" stroke="#000" stroke-width="1.9"/>
<line x1="1305.2" y1="1814.0" x2="1305.2" y2="1845.4" stroke="#000" stroke-width="1.1" stroke-dasharray="5 2 1.5 2"/>
<line x1="1336.7" y1="1814.0" x2="1336.7" y2="1845.4" stroke="#000" stroke-width="1.1" stroke-dasharray="5 2 1.5 2"/>
<polygon points="1295.3,1845.5 1341.8,1845.5 1341.8,1860.2 1295.3,1860.2" fill="#fff" stroke="#000" stroke-width="1.2" stroke-linejoin="round" />
<polyline points="1326.3,1845.5 1326.3,1860.2" fill="none" stroke="#000" stroke-width="1.2" stroke-linejoin="round" />
<rect x="1303.7" y="1852" width="3" height="3" fill="none" stroke="#000" stroke-width="1"/>
<rect x="1335.2" y="1852" width="2.5" height="3" fill="#000"/>
<polygon points="1287.1,1860.2 1280.5,1871.0 1278.3,1879.2 1277.5,1942.0 1280.5,1947.9 1300.4,1970.8 1336.6,1970.8 1359.5,1941.2 1364.7,1907.2 1363.2,1884.3 1361.0,1879.2 1350.7,1860.2" fill="#fff" stroke="#000" stroke-width="1.2" stroke-linejoin="round" />
<polyline points="1291.6,1860.7 1286.4,1881.4 1278.3,1891.7" fill="none" stroke="#000" stroke-width="1.1" stroke-linejoin="round" />
<polyline points="1286.4,1881.4 1296.0,1899.8 1307.8,1899.8 1325.6,1860.7" fill="none" stroke="#000" stroke-width="1.1" stroke-linejoin="round" />
<polyline points="1307.8,1899.8 1344.0,1875.5 1338.1,1860.7" fill="none" stroke="#000" stroke-width="1.1" stroke-linejoin="round" />
<polyline points="1344.0,1875.5 1353.6,1891.0 1364.7,1903.5" fill="none" stroke="#000" stroke-width="1.1" stroke-linejoin="round" />
<polyline points="1353.6,1891.0 1344.0,1921.3 1359.5,1941.2" fill="none" stroke="#000" stroke-width="1.1" stroke-linejoin="round" />
<polyline points="1344.0,1921.3 1316.7,1935.3 1307.8,1899.8" fill="none" stroke="#000" stroke-width="1.1" stroke-linejoin="round" />
<polyline points="1296.0,1899.8 1287.9,1932.4 1278.3,1927.2" fill="none" stroke="#000" stroke-width="1.1" stroke-linejoin="round" />
<polyline points="1287.9,1932.4 1296.7,1959.0 1313.7,1959.7 1316.7,1935.3" fill="none" stroke="#000" stroke-width="1.1" stroke-linejoin="round" />
<polyline points="1296.7,1959.0 1300.4,1970.8" fill="none" stroke="#000" stroke-width="1.1" stroke-linejoin="round" />
<polyline points="1311.5,1960.4 1300.4,1970.8" fill="none" stroke="#000" stroke-width="1.1" stroke-linejoin="round" />
<polyline points="1313.7,1959.7 1336.6,1970.8" fill="none" stroke="#000" stroke-width="1.1" stroke-linejoin="round" />
<line x1="1278.3" y1="1880.0" x2="1278.3" y2="1932.0" stroke="#000" stroke-width="1.8" />
<path d="M 1239.1,1957.5 V 1896.2 h -2.2 l 4.1,-14 l 4.8,14 h -2 V 1957.5 Z" fill="#fff" stroke="#000" stroke-width="1.1"/>
<polyline points="1386.6,1800 1407.3,1758.7 1552,1758.7" fill="none" stroke="#000" stroke-width="1.2" stroke-linejoin="round" />
<line x1="1364.9" y1="1883.4" x2="1552.0" y2="1883.4" stroke="#000" stroke-width="1.2" />
<rect x="437.25" y="35.15" width="40.4" height="39.1" fill="none" stroke="#000" stroke-width="4.5"/>
<rect x="445.6" y="53.9" width="2.2" height="1.6" fill="#000"/>
<rect x="466.5" y="53.9" width="2.2" height="1.6" fill="#000"/>
<circle cx="457.4" cy="65.1" r="1.3" fill="#000"/>
<text x="330.7" y="123.8" font-family="Liberation Serif" font-weight="bold" font-size="58.5" textLength="49.6" lengthAdjust="spacingAndGlyphs">A</text>
<text x="405.5" y="123.8" font-family="Liberation Serif" font-weight="bold" font-size="58.5" textLength="38.0" lengthAdjust="spacingAndGlyphs">Z</text>
<text x="465.5" y="123.8" font-family="Liberation Serif" font-weight="bold" font-size="58.5" textLength="54.7" lengthAdjust="spacingAndGlyphs">N</text>
<text x="541.3" y="123.8" font-family="Liberation Serif" font-weight="bold" font-size="58.5" textLength="48.2" lengthAdjust="spacingAndGlyphs">O</text>
<path d="M 320.5,129 H 602.8 V 133.8 H 320.5 A 2.4 2.4 0 0 1 320.5,129 Z" fill="#000"/>
<text x="392.8" y="155.2" font-family="Liberation Sans" font-weight="bold" font-size="27" textLength="8.0" lengthAdjust="spacingAndGlyphs">L</text>
<text x="410.4" y="155.2" font-family="Liberation Sans" font-weight="bold" font-size="27" textLength="4.3" lengthAdjust="spacingAndGlyphs">I</text>
<text x="423.3" y="155.2" font-family="Liberation Sans" font-weight="bold" font-size="27" textLength="9.9" lengthAdjust="spacingAndGlyphs">G</text>
<text x="441.7" y="155.2" font-family="Liberation Sans" font-weight="bold" font-size="27" textLength="10.8" lengthAdjust="spacingAndGlyphs">H</text>
<text x="459.0" y="155.2" font-family="Liberation Sans" font-weight="bold" font-size="27" textLength="9.8" lengthAdjust="spacingAndGlyphs">T</text>
<text x="478.7" y="155.2" font-family="Liberation Sans" font-weight="bold" font-size="27" textLength="4.3" lengthAdjust="spacingAndGlyphs">I</text>
<text x="492.6" y="155.2" font-family="Liberation Sans" font-weight="bold" font-size="27" textLength="9.8" lengthAdjust="spacingAndGlyphs">N</text>
<text x="512.0" y="155.2" font-family="Liberation Sans" font-weight="bold" font-size="27" textLength="9.8" lengthAdjust="spacingAndGlyphs">G</text>
<path d="M 125.6,975.5 L 113.5,997.2 H 137.8 Z" fill="none" stroke="#000" stroke-width="1.2" stroke-linejoin="round" />
<rect x="124.8" y="981.5" width="1.6" height="9" fill="#000"/><rect x="124.8" y="992.3" width="1.6" height="2" fill="#000"/>
<text x="144.9" y="979" font-family="Liberation Sans" font-size="9.3" textLength="51" lengthAdjust="spacing">MUST ADD</text>
<text x="145" y="990.5" font-family="Liberation Sans" font-size="9.3" textLength="68" lengthAdjust="spacing">FOR SUPPORT</text>
<text x="144.9" y="1002" font-family="Liberation Sans" font-size="9.3" textLength="142" lengthAdjust="spacing">2x4 AND JOIST NOT INCLUDED</text>
<polyline points="288.0,997.9 306.8,997.9 324.6,1008.6" fill="none" stroke="#000" stroke-width="1.1" stroke-linejoin="round" />
<polyline points="322.9,1006.8 332.7,1013.9" fill="none" stroke="#000" stroke-width="2.6" stroke-linejoin="round" />
<polygon points="321.1,965.4 556.8,977.9 563.9,988.9 559.5,998.8 322.0,985.0 315.7,972.9" fill="#fff" stroke="#000" stroke-width="1.2" stroke-linejoin="round" />
<polyline points="315.7,972.9 558.6,987.5" fill="none" stroke="#000" stroke-width="1.1" stroke-linejoin="round" />
<polyline points="321.1,965.4 325.5,967.5 324.6,975.0" fill="none" stroke="#000" stroke-width="1.0" stroke-linejoin="round" />
<text x="0" y="0" font-family="Liberation Sans" font-weight="bold" font-size="9.6" stroke="#000" stroke-width="0.3" transform="translate(502,984) rotate(3)" textLength="48" lengthAdjust="spacingAndGlyphs">Ceiling Beam</text>
<polygon points="349.6,988.0 363.9,988.0 345.2,1022.0 331.8,1019.3" fill="#fff" stroke="#000" stroke-width="1.1" stroke-linejoin="round" />
<polygon points="480.0,994.3 493.4,994.6 472.0,1029.6 458.6,1026.4" fill="#fff" stroke="#000" stroke-width="1.1" stroke-linejoin="round" />
<text x="0" y="2.2" text-anchor="middle" font-family="Liberation Sans" font-weight="bold" font-size="6.2" textLength="25" lengthAdjust="spacingAndGlyphs" transform="translate(352.5,1000) rotate(-61)">Wood Block</text>
<text x="0" y="2.2" text-anchor="middle" font-family="Liberation Sans" font-weight="bold" font-size="6.2" textLength="25" lengthAdjust="spacingAndGlyphs" transform="translate(479.5,1007) rotate(-61)">Wood Block</text>
<polygon points="293.4,1011.8 537.1,1024.6 543.4,1035.4 540.7,1038.9 297.0,1032.7 288.0,1018.4" fill="#fff" stroke="#000" stroke-width="1.2" stroke-linejoin="round" />
<polyline points="288.0,1018.4 538.9,1033.6" fill="none" stroke="#000" stroke-width="1.1" stroke-linejoin="round" />
<polyline points="293.4,1011.8 297.0,1014.8 296.1,1022.0" fill="none" stroke="#000" stroke-width="1.0" stroke-linejoin="round" />
<polyline points="329.1,1014.8 345.2,1015.7 347.0,1023.8 331.8,1022.9" fill="none" stroke="#000" stroke-width="1.0" stroke-linejoin="round" />
<polyline points="456.8,1022.9 472.9,1023.8 473.8,1030.9 458.6,1030.0" fill="none" stroke="#000" stroke-width="1.0" stroke-linejoin="round" />
<text x="0" y="0" font-family="Liberation Sans" font-weight="bold" font-size="9.6" stroke="#000" stroke-width="0.3" transform="translate(483.6,1031.5) rotate(3)" textLength="48" lengthAdjust="spacingAndGlyphs">Ceiling Beam</text>
<polygon points="319.2,1072.7 332.7,1068.1 417.3,1090.2 502.6,1068.1 516.1,1072.7 432.5,1094.1 516.1,1115.9 509.7,1121.5 417.7,1097.9 328.4,1120.8 320.6,1115.2 402.4,1094.0" fill="#fff" stroke="#000" stroke-width="1.2" stroke-linejoin="round" />
<polyline points="406.3,1087.5 430.4,1087.5" fill="none" stroke="#000" stroke-width="2.2" stroke-linejoin="round" />
<ellipse cx="341.9" cy="1076.6" rx="2.6" ry="1" fill="#000" stroke="#000" stroke-width="0.6"/>
<ellipse cx="372.3" cy="1084.4" rx="2.6" ry="1" fill="#000" stroke="#000" stroke-width="0.6"/>
<ellipse cx="375.9" cy="1107.8" rx="2.6" ry="1" fill="#000" stroke="#000" stroke-width="0.6"/>
<ellipse cx="349.0" cy="1114.4" rx="2.6" ry="1" fill="#000" stroke="#000" stroke-width="0.6"/>
<ellipse cx="460.1" cy="1085.4" rx="2.6" ry="1" fill="#000" stroke="#000" stroke-width="0.6"/>
<ellipse cx="492.7" cy="1076.6" rx="2.6" ry="1" fill="#000" stroke="#000" stroke-width="0.6"/>
<ellipse cx="462.3" cy="1108.1" rx="2.6" ry="1" fill="#000" stroke="#000" stroke-width="0.6"/>
<ellipse cx="487.8" cy="1114.4" rx="2.6" ry="1" fill="#000" stroke="#000" stroke-width="0.6"/>
<ellipse cx="393.6" cy="1095.0" rx="2.6" ry="1" fill="#000" stroke="#000" stroke-width="0.6"/>
<ellipse cx="441.7" cy="1094.2" rx="2.6" ry="1" fill="#000" stroke="#000" stroke-width="0.6"/>
<ellipse cx="417.6" cy="1096.5" rx="2.6" ry="1" fill="#000" stroke="#000" stroke-width="0.6"/>
<rect x="328.7" y="1073.4" width="3.6" height="17.0" fill="#000"/>
<rect x="503.0" y="1073.4" width="3.6" height="17.0" fill="#000"/>
<rect x="337.2" y="1116.6" width="3.6" height="17.0" fill="#000"/>
<rect x="495.9" y="1116.6" width="3.6" height="17.0" fill="#000"/>
<path d="M 341.1,1076.2 h 2.4 V 1101.8 l -1.2,2 l -1.2,-2 Z" fill="#000" stroke="#000" stroke-width="0.6"/>
<path d="M 492.2,1076.2 h 2.4 V 1101.8 l -1.2,2 l -1.2,-2 Z" fill="#000" stroke="#000" stroke-width="0.6"/>
<path d="M 348.5,1123.7 h 2.4 V 1139.4 l -1.2,2 l -1.2,-2 Z" fill="#000" stroke="#000" stroke-width="0.6"/>
<path d="M 485.1,1123.7 h 2.4 V 1139.4 l -1.2,2 l -1.2,-2 Z" fill="#000" stroke="#000" stroke-width="0.6"/>
<line x1="342.3" y1="1062.0" x2="342.3" y2="1068.4" stroke="#000" stroke-width="1.0" />
<line x1="493.4" y1="1062.0" x2="493.4" y2="1068.4" stroke="#000" stroke-width="1.0" />
<ellipse cx="363.8" cy="1144.2" rx="8" ry="3.2" fill="none" stroke="#000" stroke-width="1.6"/><line x1="363.8" y1="1134.2" x2="363.8" y2="1154.2" stroke="#000" stroke-width="1.5"/><circle cx="363.8" cy="1138.2" r="1.5" fill="#fff" stroke="#000" stroke-width="1"/>
<ellipse cx="471.5" cy="1144.2" rx="8" ry="3.2" fill="none" stroke="#000" stroke-width="1.6"/><line x1="471.5" y1="1134.2" x2="471.5" y2="1154.2" stroke="#000" stroke-width="1.5"/><circle cx="471.5" cy="1138.2" r="1.5" fill="#fff" stroke="#000" stroke-width="1"/>
<path d="M 155.4,1069.0 A 9 9 0 0 1 170.5,1073.7 A 9 9 0 0 1 180.8,1086.4 A 9 9 0 0 1 183.0,1103.0 A 9 9 0 0 1 176.5,1118.2 A 9 9 0 0 1 163.3,1127.3 A 9 9 0 0 1 147.6,1127.3 A 9 9 0 0 1 134.4,1118.2 A 9 9 0 0 1 127.9,1103.0 A 9 9 0 0 1 130.1,1086.4 A 9 9 0 0 1 140.4,1073.7 A 9 9 0 0 1 155.4,1069.0 Z" fill="none" stroke="#000" stroke-width="1.1" stroke-linejoin="round" />
<path d="M 153.8,1073.8 l 3,6 V 1118 h -6 V 1079.8 Z" fill="#000"/>
<line x1="150.8" y1="1082" x2="156.8" y2="1082" stroke="#fff" stroke-width="0.8" stroke-dasharray="0.5 2"/>
<rect x="152.5" y="1118" width="2.6" height="3.5" fill="#fff" stroke="#000" stroke-width="0.8"/>
<path d="M 147,1124 H 161 Q 159,1131 154,1131 Q 149,1131 147,1124 Z" fill="none" stroke="#000" stroke-width="1.2" stroke-linejoin="round" />
<defs><pattern id="hatch" patternUnits="userSpaceOnUse" width="7" height="7" patternTransform="rotate(45)"><line x1="0" y1="0" x2="0" y2="7" stroke="#000" stroke-width="1.2"/></pattern></defs>
<rect x="290.4" y="1281.2" width="241" height="25.3" fill="url(#hatch)" stroke="#000" stroke-width="1.3"/>
<rect x="345.4" y="1288.4" width="3.6" height="17" fill="#fff" stroke="#000" stroke-width="1.5"/>
<rect x="345.4" y="1305.4" width="3.6" height="5" fill="#000"/>
<line x1="347.2" y1="1310.0" x2="347.2" y2="1368.0" stroke="#000" stroke-width="1.0" stroke-dasharray="4 2 1 2"/>
<rect x="352.6" y="1288.4" width="3.6" height="17" fill="#fff" stroke="#000" stroke-width="1.5"/>
<rect x="352.6" y="1305.4" width="3.6" height="5" fill="#000"/>
<line x1="354.4" y1="1310.0" x2="354.4" y2="1380.0" stroke="#000" stroke-width="1.0" stroke-dasharray="4 2 1 2"/>
<rect x="376.7" y="1288.4" width="3.6" height="17" fill="#fff" stroke="#000" stroke-width="1.5"/>
<rect x="376.7" y="1305.4" width="3.6" height="5" fill="#000"/>
<line x1="378.5" y1="1310.0" x2="378.5" y2="1368.0" stroke="#000" stroke-width="1.0" stroke-dasharray="4 2 1 2"/>
<rect x="464.7" y="1288.4" width="3.6" height="17" fill="#fff" stroke="#000" stroke-width="1.5"/>
<rect x="464.7" y="1305.4" width="3.6" height="5" fill="#000"/>
<line x1="466.5" y1="1310.0" x2="466.5" y2="1368.0" stroke="#000" stroke-width="1.0" stroke-dasharray="4 2 1 2"/>
<rect x="488.7" y="1288.4" width="3.6" height="17" fill="#fff" stroke="#000" stroke-width="1.5"/>
<rect x="488.7" y="1305.4" width="3.6" height="5" fill="#000"/>
<line x1="490.5" y1="1310.0" x2="490.5" y2="1380.0" stroke="#000" stroke-width="1.0" stroke-dasharray="4 2 1 2"/>
<rect x="495.9" y="1288.4" width="3.6" height="17" fill="#fff" stroke="#000" stroke-width="1.5"/>
<rect x="495.9" y="1305.4" width="3.6" height="5" fill="#000"/>
<line x1="497.7" y1="1310.0" x2="497.7" y2="1368.0" stroke="#000" stroke-width="1.0" stroke-dasharray="4 2 1 2"/>
<polygon points="323.2,1317.2 336.0,1313.2 421.6,1336.3 508.9,1313.2 521.0,1317.2 435.7,1340.1 520.2,1362.9 507.3,1367.7 421.1,1344.0 336.0,1366.9 324.0,1362.1 406.9,1340.2" fill="#fff" stroke="#000" stroke-width="1.2" stroke-linejoin="round" />
<polyline points="411.3,1333.2 436.9,1332.4" fill="none" stroke="#000" stroke-width="2.2" stroke-linejoin="round" />
<rect x="333.4" y="1319.6" width="3.6" height="16.8" fill="#000"/>
<rect x="507.1" y="1319.6" width="3.6" height="16.8" fill="#000"/>
<rect x="341.4" y="1362.9" width="3.6" height="16.8" fill="#000"/>
<rect x="499.9" y="1362.9" width="3.6" height="16.8" fill="#000"/>
<rect x="344.4" y="1345.8" width="5.6" height="2.2" fill="#000"/>
<rect x="351.6" y="1373.1" width="5.6" height="2.2" fill="#000"/>
<rect x="375.7" y="1337.8" width="5.6" height="2.2" fill="#000"/>
<rect x="463.7" y="1337.8" width="5.6" height="2.2" fill="#000"/>
<rect x="494.9" y="1345.8" width="5.6" height="2.2" fill="#000"/>
<rect x="487.7" y="1373.1" width="5.6" height="2.2" fill="#000"/>
<rect x="376.5" y="1352.3" width="5.6" height="2.2" fill="#000"/>
<rect x="462.9" y="1352.3" width="5.6" height="2.2" fill="#000"/>
<rect x="418.1" y="1339.4" width="5.6" height="2.2" fill="#000"/>
<rect x="418.1" y="1344.2" width="5.6" height="2.2" fill="#000"/>
<path d="M 376.0,1363.1 h 5 l -2.5,5 z" fill="#000"/>
<path d="M 464.0,1363.1 h 5 l -2.5,5 z" fill="#000"/>
<ellipse cx="366.5" cy="1389.3" rx="9" ry="3.5" fill="none" stroke="#000" stroke-width="1.6"/><line x1="366.5" y1="1379.3" x2="366.5" y2="1399.3" stroke="#000" stroke-width="1.5"/><circle cx="366.5" cy="1383.3" r="1.5" fill="#fff" stroke="#000" stroke-width="1"/>
<ellipse cx="477.7" cy="1389.3" rx="9" ry="3.5" fill="none" stroke="#000" stroke-width="1.6"/><line x1="477.7" y1="1379.3" x2="477.7" y2="1399.3" stroke="#000" stroke-width="1.5"/><circle cx="477.7" cy="1383.3" r="1.5" fill="#fff" stroke="#000" stroke-width="1"/>
<path d="M 156.1,1292.2 A 9 9 0 0 1 174.0,1298.0 A 9 9 0 0 1 187.0,1314.0 A 9 9 0 0 1 191.8,1335.8 A 9 9 0 0 1 187.0,1357.7 A 9 9 0 0 1 174.0,1373.7 A 9 9 0 0 1 156.1,1379.5 A 9 9 0 0 1 138.3,1373.7 A 9 9 0 0 1 125.2,1357.7 A 9 9 0 0 1 120.4,1335.8 A 9 9 0 0 1 125.2,1314.0 A 9 9 0 0 1 138.2,1298.0 A 9 9 0 0 1 156.1,1292.2 Z" fill="none" stroke="#000" stroke-width="1.1" stroke-linejoin="round" />
<rect x="151.5" y="1299.3" width="8" height="48" fill="#fff" stroke="#000" stroke-width="1.3"/>
<rect x="151.5" y="1338" width="8" height="9.3" fill="#000"/>
<line x1="155.5" y1="1304" x2="155.5" y2="1320" stroke="#000" stroke-width="0.8"/>
<rect x="150" y="1360" width="12" height="3.2" rx="1.5" fill="#000"/>
<ellipse cx="156" cy="1369.5" rx="6" ry="3" fill="#000"/>
<ellipse cx="156" cy="1369.5" rx="3" ry="1" fill="#fff"/>
<circle cx="296.3" cy="1603.7" r="27" fill="#fff" stroke="#000" stroke-width="2.4"/>
<circle cx="296.3" cy="1603.7" r="23.5" fill="none" stroke="#000" stroke-width="1.2"/>
<circle cx="296.3" cy="1603.7" r="20" fill="none" stroke="#000" stroke-width="1.0" stroke-dasharray="5 3"/>
<rect x="288.5" y="1482.6" width="15.6" height="241.7" fill="#fff" stroke="#000" stroke-width="1.2"/>
<line x1="304.1" y1="1482.6" x2="304.1" y2="1724.3" stroke="#000" stroke-width="2.4" />
<line x1="289.8" y1="1482.6" x2="289.8" y2="1724.3" stroke="#000" stroke-width="0.9" />
<rect x="175.5" y="1595.7" width="241.7" height="16.2" fill="#fff" stroke="#000" stroke-width="1.2"/>
<line x1="175.5" y1="1595.7" x2="417.2" y2="1595.7" stroke="#000" stroke-width="2.4" />
<line x1="175.5" y1="1610.1" x2="417.2" y2="1610.1" stroke="#000" stroke-width="0.9" />
<line x1="288.5" y1="1611.9" x2="304.1" y2="1611.9" stroke="#000" stroke-width="1.0" />
<line x1="304.1" y1="1595.7" x2="304.1" y2="1611.9" stroke="#000" stroke-width="2.4" />
<rect x="191.0" y="1601.5" width="12.2" height="4.4" rx="2.2" fill="#fff" stroke="#000" stroke-width="1.1"/>
<rect x="227.6" y="1601.5" width="12.2" height="4.4" rx="2.2" fill="#fff" stroke="#000" stroke-width="1.1"/>
<rect x="353.3" y="1601.5" width="11.7" height="4.4" rx="2.2" fill="#fff" stroke="#000" stroke-width="1.1"/>
<rect x="389.4" y="1601.5" width="11.8" height="4.4" rx="2.2" fill="#fff" stroke="#000" stroke-width="1.1"/>
<rect x="294.2" y="1498.8" width="4.4" height="11.5" rx="2.2" fill="#fff" stroke="#000" stroke-width="1.1"/>
<rect x="294.2" y="1535.4" width="4.4" height="11.1" rx="2.2" fill="#fff" stroke="#000" stroke-width="1.1"/>
<rect x="294.2" y="1660.6" width="4.4" height="11.6" rx="2.2" fill="#fff" stroke="#000" stroke-width="1.1"/>
<rect x="294.2" y="1696.6" width="4.4" height="11.7" rx="2.2" fill="#fff" stroke="#000" stroke-width="1.1"/>
<circle cx="184" cy="1603.7" r="1.7" fill="#fff" stroke="#000" stroke-width="1"/>
<circle cx="408.7" cy="1603.7" r="1.7" fill="#fff" stroke="#000" stroke-width="1"/>
<circle cx="296.3" cy="1491.5" r="1.7" fill="#fff" stroke="#000" stroke-width="1"/>
<rect x="294.8" y="1714" width="3" height="3" fill="#fff" stroke="#000" stroke-width="1"/>
<path d="M 296.3,1599.5 l 3,4.2 l -3,4.2 l -3,-4.2 z" fill="#fff" stroke="#000" stroke-width="1"/>
<polyline points="304.1,1482.6 500.3,1482.6 500.3,1724.3 288.5,1724.3" fill="none" stroke="#000" stroke-width="1.1" stroke-linejoin="round" />
<polyline points="304.1,1504.4 463.7,1504.4 463.7,1702.3 304.1,1702.3" fill="none" stroke="#000" stroke-width="1.1" stroke-linejoin="round" />
<polyline points="304.1,1540.5 441.5,1540.5 441.5,1666.2 304.1,1666.2" fill="none" stroke="#000" stroke-width="1.1" stroke-linejoin="round" />
<polyline points="175.5,1611.9 175.5,1786.6 417.2,1786.6 417.2,1611.9" fill="none" stroke="#000" stroke-width="1.1" stroke-linejoin="round" />
<polyline points="197.7,1605 197.7,1766.4 395.4,1766.4 395.4,1605" fill="none" stroke="#000" stroke-width="1.1" stroke-linejoin="round" />
<polyline points="233.6,1605 233.6,1744.9 359.5,1744.9 359.5,1605" fill="none" stroke="#000" stroke-width="1.1" stroke-linejoin="round" />
<polyline points="172.2,1573.5 268.6,1573.5 276.4,1583" fill="none" stroke="#000" stroke-width="1.1" stroke-linejoin="round" />
<polyline points="418.3,1570.9 324,1570.9 315.2,1580.8" fill="none" stroke="#000" stroke-width="1.1" stroke-linejoin="round" />
<text x="178.0" y="1572.4" font-family="Liberation Sans" font-size="20.5" textLength="65.9" lengthAdjust="spacingAndGlyphs">Ø2 3/4"</text>
<text x="353.2" y="1569.3" font-family="Liberation Sans" font-size="20.5" textLength="65.9" lengthAdjust="spacingAndGlyphs">Ø3 1/2"</text>
<text x="268.9" y="1743.1" font-family="Liberation Sans" font-size="20.5" textLength="50.4" lengthAdjust="spacingAndGlyphs">8 3/4"</text>
<text x="263.4" y="1765.3" font-family="Liberation Sans" font-size="20.5" textLength="60.3" lengthAdjust="spacingAndGlyphs">13 7/8"</text>
<text x="265.6" y="1785.2" font-family="Liberation Sans" font-size="20.5" textLength="61.0" lengthAdjust="spacingAndGlyphs">16 7/8"</text>
<text x="0" y="0" font-family="Liberation Sans" font-size="20.5" transform="translate(439.8,1630.4) rotate(-90)" textLength="49.2" lengthAdjust="spacingAndGlyphs">8 3/4"</text>
<text x="0" y="0" font-family="Liberation Sans" font-size="20.5" transform="translate(462.9,1633.8) rotate(-90)" textLength="59.3" lengthAdjust="spacingAndGlyphs">13 7/8"</text>
<text x="0" y="0" font-family="Liberation Sans" font-size="20.5" transform="translate(498.6,1633.8) rotate(-90)" textLength="59.3" lengthAdjust="spacingAndGlyphs">16 7/8"</text>
<ellipse cx="125.4" cy="1934.1" rx="43.3" ry="16" fill="none" stroke="#000" stroke-width="1.25"/>
<ellipse cx="125.4" cy="1934.8" rx="41" ry="13.4" fill="none" stroke="#000" stroke-width="1.25"/>
<rect x="119" y="1914" width="30" height="9" fill="#fff"/>
<polygon points="100.5,1915.2 120,1917.2 101.6,1924.4 104.5,1919.8" fill="#fff" stroke="#000" stroke-width="1.1" stroke-linejoin="round"/>
<ellipse cx="126" cy="1973.8" rx="26" ry="14.4" fill="#fff" stroke="#000" stroke-width="1.2"/>
<path d="M 105.3,1984 C 108,1991 116,1994 126,1994 C 136,1994 143,1991 145.5,1984" fill="none" stroke="#000" stroke-width="1.2"/>
<polyline points="99.8,1976 81.5,2109.1 90.6,2109.1" fill="none" stroke="#000" stroke-width="1.2" stroke-linejoin="round" />
<polyline points="105.3,1985 90.6,2107.3" fill="none" stroke="#000" stroke-width="1.2" stroke-linejoin="round" />
<polyline points="152.2,1976 169.9,2109.1 160.7,2109.1" fill="none" stroke="#000" stroke-width="1.2" stroke-linejoin="round" />
<polyline points="145.5,1985 160.7,2109.1" fill="none" stroke="#000" stroke-width="1.2" stroke-linejoin="round" />
<path d="M 104.3,1996.0 Q 125.4,1986.0 146.5,1996.0" fill="none" stroke="#000" stroke-width="1.45"/>
<path d="M 103.5,2002.9 Q 125.4,1992.9 147.4,2002.9" fill="none" stroke="#000" stroke-width="1.45"/>
<path d="M 102.7,2009.8 Q 125.4,1999.8 148.2,2009.8" fill="none" stroke="#000" stroke-width="1.45"/>
<path d="M 101.8,2016.7 Q 125.5,2006.7 149.1,2016.7" fill="none" stroke="#000" stroke-width="1.45"/>
<path d="M 101.0,2023.6 Q 125.5,2013.6 149.9,2023.6" fill="none" stroke="#000" stroke-width="1.45"/>
<path d="M 100.2,2030.5 Q 125.5,2020.5 150.8,2030.5" fill="none" stroke="#000" stroke-width="1.45"/>
<path d="M 99.3,2037.4 Q 125.5,2027.4 151.7,2037.4" fill="none" stroke="#000" stroke-width="1.45"/>
<path d="M 98.5,2044.3 Q 125.5,2034.3 152.5,2044.3" fill="none" stroke="#000" stroke-width="1.45"/>
<path d="M 97.7,2051.2 Q 125.5,2041.2 153.4,2051.2" fill="none" stroke="#000" stroke-width="1.45"/>
<path d="M 96.9,2058.1 Q 125.5,2048.1 154.2,2058.1" fill="none" stroke="#000" stroke-width="1.45"/>
<path d="M 96.0,2065.0 Q 125.6,2055.0 155.1,2065.0" fill="none" stroke="#000" stroke-width="1.45"/>
<path d="M 95.2,2071.9 Q 125.6,2061.9 156.0,2071.9" fill="none" stroke="#000" stroke-width="1.45"/>
<path d="M 94.4,2078.8 Q 125.6,2068.8 156.8,2078.8" fill="none" stroke="#000" stroke-width="1.45"/>
<path d="M 93.5,2085.7 Q 125.6,2075.7 157.7,2085.7" fill="none" stroke="#000" stroke-width="1.45"/>
<path d="M 92.7,2092.6 Q 125.6,2082.6 158.5,2092.6" fill="none" stroke="#000" stroke-width="1.45"/>
<path d="M 91.9,2099.5 Q 125.6,2089.5 159.4,2099.5" fill="none" stroke="#000" stroke-width="1.45"/>
<path d="M 91.0,2106.4 Q 125.6,2096.4 160.3,2106.4" fill="none" stroke="#000" stroke-width="1.45"/>
<path d="M 134.5,2003.7 C 117.4,2022 113.8,2040.2 122.3,2064.6 C 133.3,2089 137,2113.4 128.4,2137.8 L 119.5,2162" fill="none" stroke="#000" stroke-width="8.6" stroke-linecap="butt"/>
<path d="M 134.5,2003.7 C 117.4,2022 113.8,2040.2 122.3,2064.6 C 133.3,2089 137,2113.4 128.4,2137.8 L 119.5,2162" fill="none" stroke="#fff" stroke-width="6.2" stroke-linecap="butt"/>
<path d="M 118,2003.7 C 133.3,2022 137,2040.2 130.9,2064.6 C 122.3,2089 111.3,2107.3 110.1,2131.7 L 109.5,2162" fill="none" stroke="#000" stroke-width="8.6" stroke-linecap="butt"/>
<path d="M 118,2003.7 C 133.3,2022 137,2040.2 130.9,2064.6 C 122.3,2089 111.3,2107.3 110.1,2131.7 L 109.5,2162" fill="none" stroke="#fff" stroke-width="6.2" stroke-linecap="butt"/>
<polyline points="126,2118 140.5,2160" fill="none" stroke="#000" stroke-width="1.1" stroke-linejoin="round" />
<polyline points="120,2138 127.5,2162" fill="none" stroke="#000" stroke-width="1.1" stroke-linejoin="round" />
</svg>
</body></html>
